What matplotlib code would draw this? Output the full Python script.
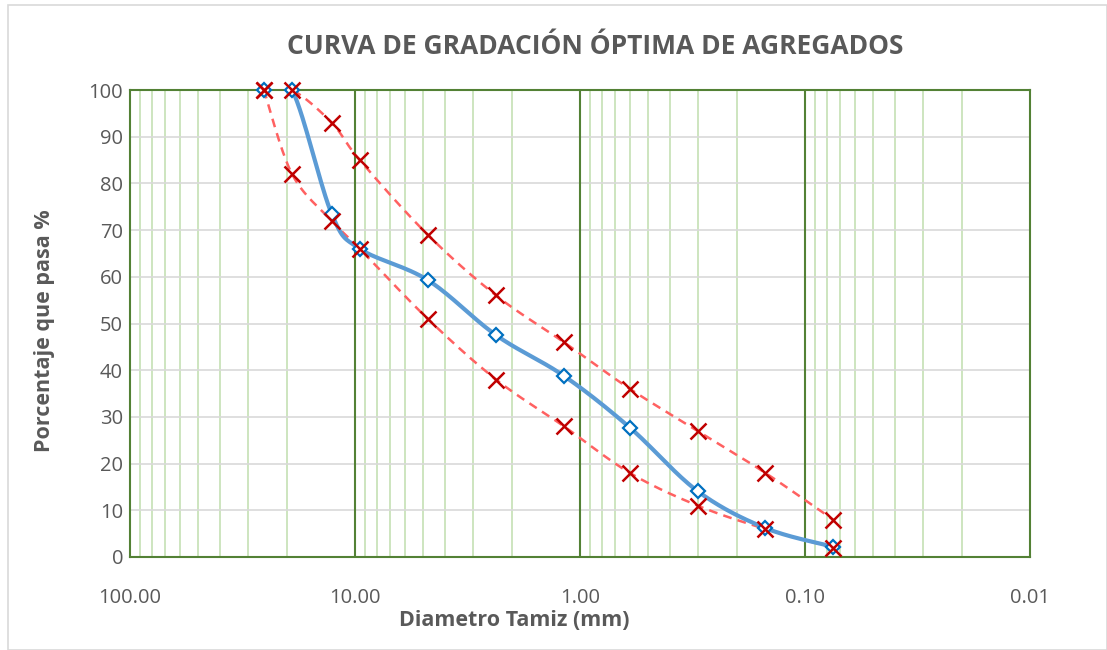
import numpy as np
import matplotlib
matplotlib.use("Agg")
import matplotlib.pyplot as plt
from matplotlib.patches import Rectangle

plt.rcParams['font.family'] = ['Open Sans', 'DejaVu Sans']

# tamices (mm) y porcentajes que pasan
sieve_mm = [25.4, 19.05, 12.7, 9.525, 4.75, 2.36, 1.18, 0.6, 0.3, 0.15, 0.075]
pass_opt = [100, 100, 73.5, 66, 59.3, 47.5, 38.8, 27.7, 14.1, 6.2, 2.2]
lim_sup = [100, 100, 93, 85, 69, 56, 46, 36, 27, 18, 8]
lim_inf = [100, 82, 72, 66, 51, 38, 28, 18, 11, 6, 2]

x_ticks = [100, 10, 1, 0.1, 0.01]
x_ticklabels = ["100.00", "10.00", "1.00", "0.10", "0.01"]
y_ticks = list(range(0, 101, 10))

GRAY = "#595959"
GREEN = "#538135"
LGREEN = "#C5E0B4"


def smooth(x, y, n=30):
    """Curva suavizada tipo Excel (Catmull-Rom en coordenadas de pantalla)."""
    px = np.log10(np.asarray(x, float)) * 225.0
    py = np.asarray(y, float) * 4.68
    P = np.column_stack([px, py])
    P = np.vstack([P[0], P, P[-1]])
    out = []
    for i in range(1, len(P) - 2):
        p0, p1, p2, p3 = P[i - 1], P[i], P[i + 1], P[i + 2]
        c1 = p1 + (p2 - p0) / 6.0
        c2 = p2 - (p3 - p1) / 6.0
        t = np.linspace(0, 1, n)[:, None]
        seg = ((1 - t) ** 3 * p1 + 3 * (1 - t) ** 2 * t * c1
               + 3 * (1 - t) * t ** 2 * c2 + t ** 3 * p2)
        out.append(seg if i == 1 else seg[1:])
    out = np.vstack(out)
    return 10 ** (out[:, 0] / 225.0), out[:, 1] / 4.68


fig = plt.figure(figsize=(11.07, 6.5), dpi=100)
fig.patches.append(Rectangle((8 / 1107, 0), 1 - 8 / 1107, 1 - 5 / 650,
                             transform=fig.transFigure, fill=False,
                             edgecolor="#D9D9D9", lw=1.2))
ax = fig.add_axes([130 / 1107, 93 / 650, 900 / 1107, 467 / 650])
ax.set_xscale("log")
ax.set_xlim(100, 0.01)
ax.set_ylim(0, 100)

# rejilla
for dec in [0.01, 0.1, 1, 10]:
    for k in range(2, 10):
        ax.axvline(dec * k, color=LGREEN, lw=1.2, zorder=0)
for v in [0.1, 1, 10]:
    ax.axvline(v, color=GREEN, lw=1.5, zorder=1)
for v in y_ticks[1:-1]:
    ax.axhline(v, color="#D9D9D9", lw=1.2, zorder=0)
for s in ax.spines.values():
    s.set_color(GREEN)
    s.set_linewidth(1.5)

sx, sy = smooth(sieve_mm, pass_opt)
ax.plot(sx, sy, color="#5B9BD5", lw=3, zorder=4)
ax.plot(sieve_mm, pass_opt, ls="none", marker="D", ms=7.5, mew=1.6,
        mfc="white", mec="#0070C0", zorder=5, clip_on=False)

for yy in (lim_sup, lim_inf):
    sx, sy = smooth(sieve_mm, yy)
    ax.plot(sx, sy, color="#FF6161", lw=1.8, ls=(0, (3.5, 2.5)), zorder=3)
    ax.plot(sieve_mm, yy, ls="none", marker="x", ms=11, mew=1.8,
            color="#C00000", zorder=6, clip_on=False)

ax.set_xticks(x_ticks)
ax.set_xticklabels(x_ticklabels)
ax.set_xticks([], minor=True)
ax.set_yticks(y_ticks)
ax.tick_params(axis="both", length=0, labelsize=14.5, colors=GRAY)
ax.tick_params(axis="y", pad=5)
ax.tick_params(axis="x", pad=22)

ax.set_xlabel("Diametro Tamiz (mm)", fontsize=15.5, fontweight="bold",
              color=GRAY)
ax.set_ylabel("Porcentaje que pasa %", fontsize=15.5, fontweight="bold",
              color=GRAY)
ax.xaxis.set_label_coords((514 - 130) / 900, -0.113)
ax.yaxis.set_label_coords(-0.083, (557 - 331) / 467)
fig.text(595 / 1107, 1 - 47 / 650, "CURVA DE GRADACIÓN ÓPTIMA DE AGREGADOS",
         ha="center", va="center", fontsize=19, fontweight="bold", color=GRAY)

fig.savefig("out.png", dpi=100)
